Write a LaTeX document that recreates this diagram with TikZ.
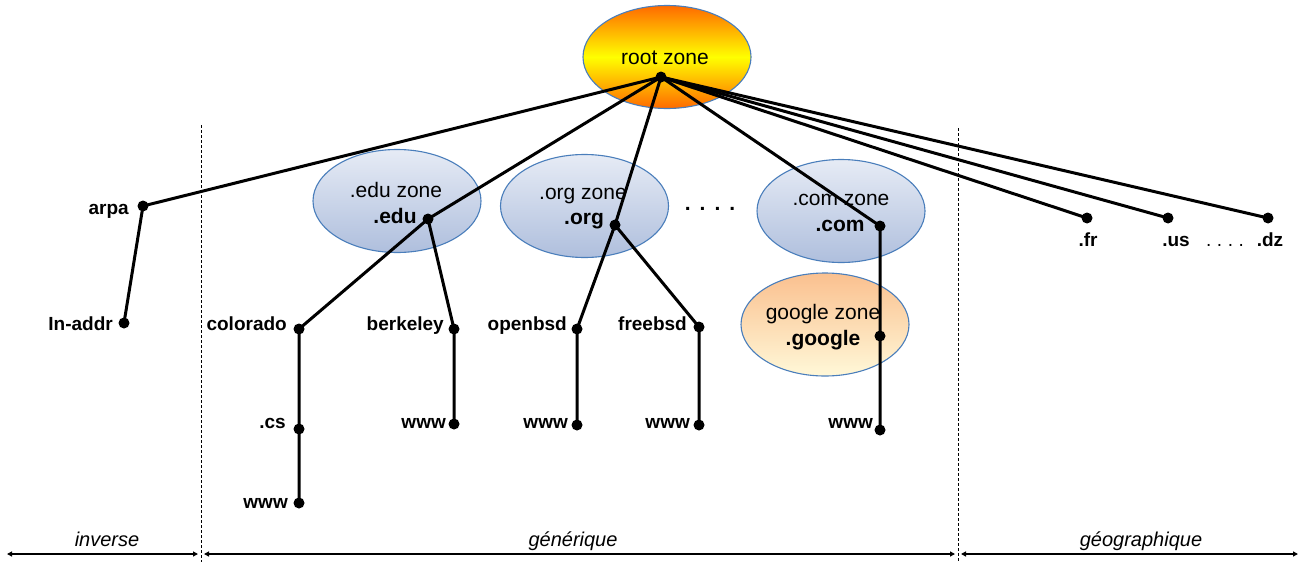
\documentclass[tikz,border=0pt]{standalone}
\usepackage{fontspec}
\setmainfont{Liberation Sans}
\usetikzlibrary{shapes.geometric,arrows.meta}

\definecolor{rim}{HTML}{4A7EBB}
\definecolor{rootout}{HTML}{FF6A00}
\definecolor{rootmid}{HTML}{FFFF00}
\definecolor{bluetop}{HTML}{E6EBF5}
\definecolor{bluebot}{HTML}{AFBFDD}
\definecolor{orangetop}{HTML}{FAC08F}
\definecolor{orangebot}{HTML}{FFF8D8}

\tikzset{
  zone/.style={ellipse, draw=rim, line width=1.1pt, minimum width=168pt,
    minimum height=103pt, inner sep=0pt},
  bluezone/.style={zone, top color=bluetop, bottom color=bluebot},
  orangezone/.style={zone, top color=orangetop, bottom color=orangebot},
  rootzone/.style={zone, top color=rootout, bottom color=rootout, middle color=rootmid},
  zonetext/.style={anchor=base, inner sep=0pt, font=\fontsize{21}{24}\selectfont},
  zonename/.style={zonetext, font=\bfseries\fontsize{21}{24}\selectfont},
  lbl/.style={anchor=base east, inner sep=0pt, font=\bfseries\fontsize{19}{22}\selectfont},
  clbl/.style={anchor=base, inner sep=0pt, font=\bfseries\fontsize{19}{22}\selectfont},
  dot/.style={circle, fill=black, inner sep=0pt, minimum size=11pt},
  link/.style={line width=3pt, line cap=round},
  sep/.style={line width=0.8pt, dash pattern=on 3pt off 2pt},
  span/.style={line width=1.2pt, {Triangle[length=5pt,width=5pt]}-{Triangle[length=5pt,width=5pt]}},
  area/.style={anchor=base, inner sep=0pt, font=\itshape\fontsize{20}{23}\selectfont}
}

\begin{document}
\begin{tikzpicture}[x=1pt, y=-1pt]
\useasboundingbox (0,0) rectangle (1305,562);

% zone ellipses
\node[rootzone]   (rootz)   at (667,57)  {};
\node[bluezone]   (eduz)    at (397,201) {};
\node[bluezone]   (orgz)    at (584.5,206) {};
\node[bluezone]   (comz)    at (841,211) {};
\node[orangezone] (googlez) at (825,324.5) {};

% zone captions
\node[zonetext] (roott)    at (665,64)   {root zone};
\node[zonetext] (edut)     at (396,197)  {.edu zone};
\node[zonename] (edun)     at (395,223)  {.edu};
\node[zonetext] (orgt)     at (583,199)  {.org zone};
\node[zonename] (orgn)     at (584,224)  {.org};
\node[zonetext] (comt)     at (841,205)  {.com zone};
\node[zonename] (comn)     at (840,231)  {.com};
\node[zonetext] (googlet)  at (823,319)  {google zone};
\node[zonename] (googlen)  at (823,345)  {.google};
\node[zonename] (moretld)  at (710,210)  {.\hspace{9pt}.\hspace{9pt}.\hspace{9pt}.};

% tree nodes
\node[dot] (root)     at (661,77)  {};
\node[dot] (arpa)     at (143,206) {};
\node[dot] (inaddr)   at (124,323) {};
\node[dot] (edu)      at (428,219) {};
\node[dot] (colorado) at (299,329) {};
\node[dot] (cs)       at (299,429) {};
\node[dot] (wwwcs)    at (299,503) {};
\node[dot] (berkeley) at (454,329) {};
\node[dot] (wwwbk)    at (454,424) {};
\node[dot] (org)      at (615,225) {};
\node[dot] (openbsd)  at (577,329) {};
\node[dot] (wwwob)    at (577,425) {};
\node[dot] (freebsd)  at (699,327) {};
\node[dot] (wwwfb)    at (699,425) {};
\node[dot] (com)      at (880,226) {};
\node[dot] (google)   at (880,336) {};
\node[dot] (wwwgo)    at (880,430) {};
\node[dot] (fr)       at (1087,218) {};
\node[dot] (us)       at (1168,218) {};
\node[dot] (dz)       at (1268,218) {};

% node labels
\node[lbl] (arpal)     at (129,214)   {arpa};
\node[lbl] (inaddrl)   at (113,330)   {In-addr};
\node[lbl] (coloradol) at (287,330)   {colorado};
\node[lbl] (csl)       at (286,428)   {.cs};
\node[lbl] (wwwcsl)    at (288,508)   {www};
\node[lbl] (berkeleyl) at (444,330)   {berkeley};
\node[lbl] (wwwbkl)    at (446,428)   {www};
\node[lbl] (openbsdl)  at (567,330)   {openbsd};
\node[lbl] (wwwobl)    at (568,428)   {www};
\node[lbl] (freebsdl)  at (687,330)   {freebsd};
\node[lbl] (wwwfbl)    at (690,428)   {www};
\node[lbl] (wwwgol)    at (873,428)   {www};
\node[clbl] (frl)      at (1088,246)  {.fr};
\node[clbl] (usl)      at (1176,246)  {.us};
\node[clbl] (ccmore)   at (1225,246)  {\mdseries.\hspace{5.5pt}.\hspace{5.5pt}.\hspace{5.5pt}.};
\node[clbl] (dzl)      at (1270,246)  {.dz};

% connectors
\draw[link] (root.center) -- (arpa.center) -- (inaddr.center);
\draw[link] (root.center) -- (edu.center);
\draw[link] (edu.center) -- (colorado.center) -- (cs.center) -- (wwwcs.center);
\draw[link] (edu.center) -- (berkeley.center) -- (wwwbk.center);
\draw[link] (root.center) -- (org.center);
\draw[link] (org.center) -- (openbsd.center) -- (wwwob.center);
\draw[link] (org.center) -- (freebsd.center) -- (wwwfb.center);
\draw[link] (root.center) -- (com.center) -- (google.center) -- (wwwgo.center);
\draw[link] (root.center) -- (fr.center);
\draw[link] (root.center) -- (us.center);
\draw[link] (root.center) -- (dz.center);

% category separators
\coordinate (sepAtop) at (201,125);
\coordinate (sepAbot) at (201,562);
\coordinate (sepBtop) at (958,128);
\coordinate (sepBbot) at (958,562);
\draw[sep] (sepAtop) -- (sepAbot);
\draw[sep] (sepBtop) -- (sepBbot);

% category spans
\coordinate (invL) at (7,554);
\coordinate (invR) at (198,554);
\coordinate (genL) at (204,554);
\coordinate (genR) at (955,554);
\coordinate (geoL) at (961,554);
\coordinate (geoR) at (1298,554);
\draw[span] (invL) -- (invR);
\draw[span] (genL) -- (genR);
\draw[span] (geoL) -- (geoR);
\node[area] (inverse) at (107,546)  {inverse};
\node[area] (generic) at (573,546)  {générique};
\node[area] (geo)     at (1141,546) {géographique};
\end{tikzpicture}
\end{document}
